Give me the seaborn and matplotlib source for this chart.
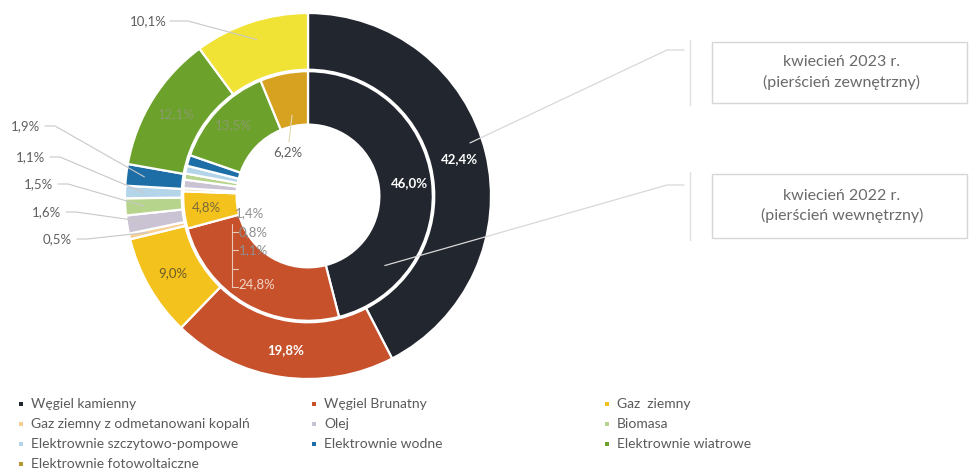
import matplotlib
matplotlib.use("Agg")
import matplotlib.pyplot as plt
import numpy as np
import seaborn as sns

# Struktura produkcji energii elektrycznej wg źródeł (%)
categories = [
    "Węgiel kamienny",
    "Węgiel Brunatny",
    "Gaz  ziemny",
    "Gaz ziemny z odmetanowani kopalń",
    "Olej",
    "Biomasa",
    "Elektrownie szczytowo-pompowe",
    "Elektrownie wodne",
    "Elektrownie wiatrowe",
    "Elektrownie fotowoltaiczne",
]
share_2023 = [42.4, 19.8, 9.0, 0.5, 1.6, 1.5, 1.1, 1.9, 12.1, 10.1]   # pierścień zewnętrzny
share_2022 = [46.0, 24.8, 4.8, 0.4, 1.1, 0.8, 1.0, 1.4, 13.5, 6.2]    # pierścień wewnętrzny
ring_titles = ["kwiecień 2023 r.\n(pierścień zewnętrzny)",
               "kwiecień 2022 r.\n(pierścień wewnętrzny)"]

sns.set_theme(style="white")
plt.rcParams["font.family"] = ["Lato", "DejaVu Sans"]

outer_colors = sns.color_palette(["#22262e", "#c6512b", "#f4c21c", "#f7cf95", "#c9c3d3",
                                  "#b7d48c", "#b4d4ea", "#1d6ea6", "#6ca22c", "#f1e236"])
inner_colors = sns.color_palette(["#22262e", "#c6512b", "#f4c21c", "#f7cf95", "#c9c3d3",
                                  "#b7d48c", "#b4d4ea", "#1d6ea6", "#6ca22c", "#d6a220"])
legend_colors = list(outer_colors[:-1]) + [sns.color_palette(["#b49a2c"])[0]]

W, H = 970, 472
fig = plt.figure(figsize=(W / 100, H / 100), dpi=100)

# pie axes: center (308, 196) px, radius 183 px
cx, cy, R = 308, 196, 183
ax = fig.add_axes([(cx - R) / W, (H - cy - R) / H, 2 * R / W, 2 * R / H])

# overlay axes in pixel coordinates (y downwards)
ov = fig.add_axes([0, 0, 1, 1], zorder=5)
ov.set_xlim(0, W)
ov.set_ylim(H, 0)
ov.axis("off")
ov.patch.set_alpha(0)

R_OUT, W_OUT = 1.0, 0.31
R_IN, W_IN = 0.682, 0.292

wedge_kw = dict(edgecolor="white", linewidth=1.6)
ax.pie(share_2023, radius=R_OUT, colors=outer_colors, startangle=90, counterclock=False,
       wedgeprops=dict(width=W_OUT, **wedge_kw))
ax.pie(share_2022, radius=R_IN, colors=inner_colors, startangle=90, counterclock=False,
       wedgeprops=dict(width=W_IN, **wedge_kw))
ax.set_xlim(-1, 1)
ax.set_ylim(-1, 1)
ax.set_aspect("equal")
ax.axis("off")


def mid_angle(values, i):
    cum = sum(values[:i]) + values[i] / 2
    return np.deg2rad(90 - 360 * cum / sum(values))


def pt(values, i, r):
    a = mid_angle(values, i)
    return r * np.cos(a), r * np.sin(a)


def to_px(x, y):
    return cx + R * x, cy - R * y


def pct(v):
    return f"{v:.1f}%".replace(".", ",")


GREY = "#5f5f5f"
LINE = "#c8c8c8"
FS = 9.5

# labels inside the outer ring
for i, col in [(0, "white"), (1, "white"), (2, "#6b5a2a"), (8, "#8a9a6a")]:
    x, y = pt(share_2023, i, 0.85)
    ax.text(x, y, pct(share_2023[i]), color=col, fontsize=FS, ha="center", va="center",
            fontweight="bold" if col == "white" else "normal")

# labels inside the inner ring
for i, col in [(0, "white"), (1, "#f3d6c8"), (2, "#7a6a3a"), (8, "#8a9a6a")]:
    x, y = pt(share_2022, i, 0.56)
    ax.text(x, y, pct(share_2022[i]), color=col, fontsize=FS, ha="center", va="center",
            fontweight="bold" if col == "white" else "normal")

# photovoltaics, inner ring: label in the hole
px, py = to_px(*pt(share_2022, 9, 0.45))
ov.plot([px, 289], [py, 142], color="#e6d9b0", lw=0.8)
ov.text(288, 152, pct(share_2022[9]), fontsize=FS, color=GREY, ha="center", va="center")

# photovoltaics, outer ring: label outside
px, py = to_px(*pt(share_2023, 9, 0.9))
ov.plot([170, 188, px], [21, 21, py], color=LINE, lw=0.8)
ov.text(148, 21, pct(share_2023[9]), fontsize=FS, color=GREY, ha="center", va="center")

# small outer slices: labels on the left with leader lines
left_labels = [(25, 126), (30, 157), (38, 184), (46, 212), (57, 239)]
for i, (tx, ty) in zip([7, 6, 5, 4, 3], left_labels):
    px, py = to_px(*pt(share_2023, i, 0.9))
    ov.plot([tx + 20, tx + 30, px], [ty, ty, py], color=LINE, lw=0.8)
    ov.text(tx, ty, pct(share_2023[i]), fontsize=FS, color=GREY, ha="center", va="center")

# small inner slices: stacked labels next to the hole
ov.plot([232, 232], [224, 287], color="#e8c8b8", lw=0.8, zorder=1)
for yy in [232, 250, 269, 287]:
    ov.plot([232, 238], [yy, yy], color="#e8c8b8", lw=0.8, zorder=1)
for i, tx, ty in [(7, 249, 213), (5, 253, 232), (4, 253, 250)]:
    ov.text(tx, ty, pct(share_2022[i]), fontsize=FS, color="#8f8f8f", ha="center", va="center")

# ring description boxes with leader lines
box_specs = [(42, 103, (0.885, 0.29), 50), (174, 238, (0.42, -0.38), 185)]
for (top, bottom, xy, ly), title in zip(box_specs, ring_titles):
    ov.add_patch(plt.Rectangle((712, top), 255, bottom - top, fill=False,
                               edgecolor="#d6d6d6", lw=1.0))
    ov.plot([690, 690], [top - 2, bottom + 2], color="#e0e0e0", lw=1.0)
    ov.text(842, (top + bottom) / 2, title, fontsize=11.5, color="#6a6a6a",
            ha="center", va="center", linespacing=1.45)
    px, py = to_px(*xy)
    ov.plot([684, 667, px], [ly, ly, py], color="#d8d8d8", lw=0.9)

# legend: three columns, filled row by row
col_x = [21, 314, 607]
row_y = [404, 424, 444, 464]
for k, (name, c) in enumerate(zip(categories, legend_colors)):
    r, cidx = divmod(k, 3)
    ov.scatter([col_x[cidx]], [row_y[r]], marker="s", s=12, color=c, linewidths=0)
    ov.text(col_x[cidx] + 10, row_y[r], name, fontsize=10, color="#5a5a5a",
            ha="left", va="center")

fig.savefig("out.png", dpi=100)
